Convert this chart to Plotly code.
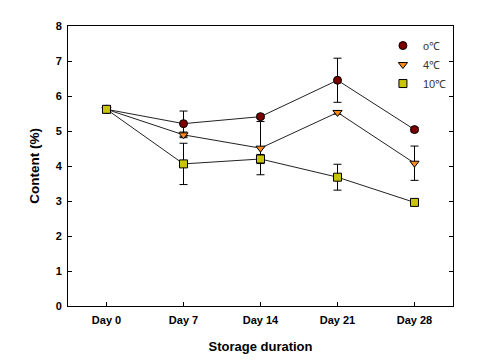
import plotly.graph_objects as go

days = ["Day 0", "Day 7", "Day 14", "Day 21", "Day 28"]
series_names = ["o℃", "4℃", "10℃"]
val_0c = [5.62, 5.21, 5.41, 6.45, 5.04]
err_0c = [0.10, 0.36, 0.05, 0.63, 0.06]
val_4c = [5.62, 4.89, 4.51, 5.53, 4.08]
err_4c = [0.10, 0.08, 0.76, 0.05, 0.49]
val_10c = [5.62, 4.06, 4.20, 3.68, 2.96]
err_10c = [0.10, 0.59, 0.13, 0.37, 0.06]
y_ticks = [0, 1, 2, 3, 4, 5, 6, 7, 8]

colors = ["#7a0000", "#ff8a1c", "#c8c40c"]
symbols = ["circle", "triangle-down", "square"]
vals = [val_0c, val_4c, val_10c]
errs = [err_0c, err_4c, err_10c]

fig = go.Figure()
for v in vals:
    fig.add_trace(go.Scatter(x=days, y=v, mode="lines",
                             line=dict(color="#222222", width=1),
                             showlegend=False, hoverinfo="skip"))
for name, v, e, c, s in zip(series_names, vals, errs, colors, symbols):
    fig.add_trace(go.Scatter(
        x=days, y=v, mode="markers", name=name,
        marker=dict(symbol=s, size=8, color=c, line=dict(color="black", width=1)),
        error_y=dict(type="data", array=e, visible=True, color="black",
                     thickness=1, width=4),
    ))

fig.update_layout(
    width=475, height=355,
    margin=dict(l=60, r=30, t=14, b=52),
    paper_bgcolor="white", plot_bgcolor="white",
    font=dict(family="Liberation Sans, Arial, sans-serif", color="black"),
    showlegend=True,
    legend=dict(x=0.818, y=0.982, xanchor="left", yanchor="top",
                bgcolor="rgba(0,0,0,0)", font=dict(size=11, color="#333333"),
                itemwidth=30, tracegroupgap=0),
    xaxis=dict(
        type="category", range=[-0.5, 4.5],
        showline=True, linecolor="black", linewidth=1, mirror=True,
        ticks="inside", ticklen=4, tickcolor="black",
        showgrid=False, zeroline=False, ticklabelstandoff=4,
        tickfont=dict(size=11, family="Liberation Sans, Arial", weight="bold"),
        title=dict(text="<b>Storage duration</b>", font=dict(size=13), standoff=16),
    ),
    yaxis=dict(
        range=[0, 8], tickvals=y_ticks,
        showline=True, linecolor="black", linewidth=1, mirror="ticks",
        ticks="inside", ticklen=4, tickcolor="black",
        showgrid=False, zeroline=False, ticklabelstandoff=3,
        tickfont=dict(size=11, family="Liberation Sans, Arial", weight="bold"),
        title=dict(text="<b>Content (%)</b>", font=dict(size=13.5), standoff=12),
    ),
)

fig.write_html("out.html")
